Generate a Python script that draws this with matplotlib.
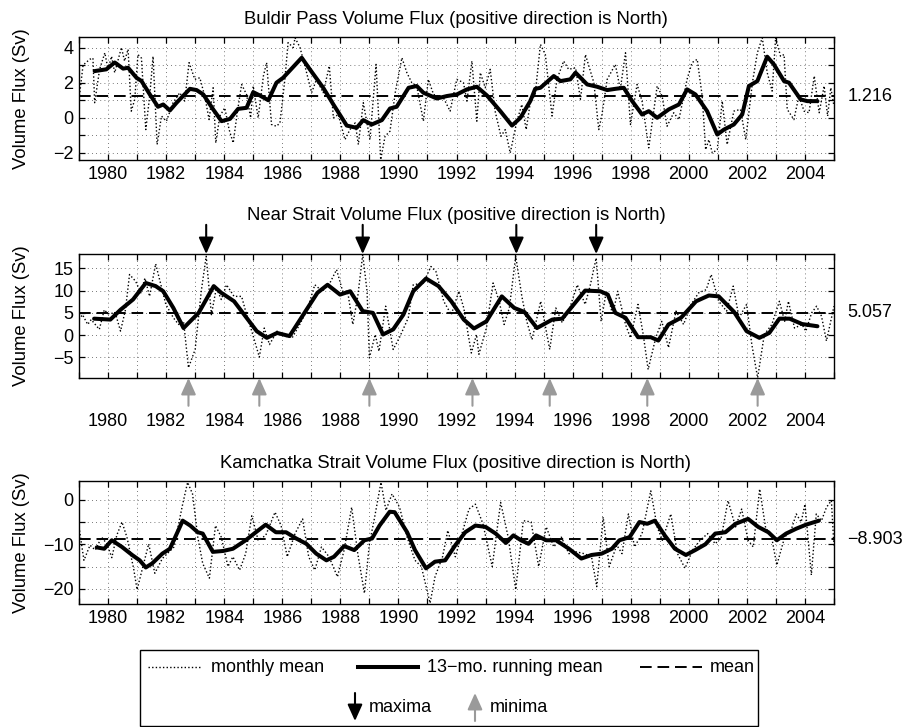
import matplotlib
matplotlib.use('Agg')
import matplotlib.pyplot as plt
from matplotlib.patches import Rectangle
from matplotlib.lines import Line2D
import matplotlib.transforms as mtransforms

plt.rcParams['font.family'] = ['Liberation Sans', 'DejaVu Sans']
plt.rcParams['axes.unicode_minus'] = True

# ---------------- data ----------------
years_ticks = list(range(1979, 2006))
year_labels = [str(y) if y % 2 == 0 else '' for y in years_ticks]

titles = ["Buldir Pass Volume Flux (positive direction is North)",
          "Near Strait Volume Flux (positive direction is North)",
          "Kamchatka Strait Volume Flux (positive direction is North)"]
means = [1.216, 5.057, -8.903]
mean_labels = ["1.216", "5.057", "\u22128.903"]

buldir_monthly = [
    (1979.00, 1.05), (1979.14, 3.0), (1979.37, 3.33), (1979.48, 3.4), (1979.54, 0.86),
    (1979.71, 2.76), (1979.89, 3.7), (1980.00, 2.76), (1980.12, 3.5), (1980.23, 2.57),
    (1980.46, 4.0), (1980.57, 3.23), (1980.69, 3.9), (1980.80, 0.38), (1980.92, 1.05),
    (1981.03, 3.6), (1981.15, 3.4), (1981.30, -0.67), (1981.44, 1.33), (1981.55, 3.5),
    (1981.69, -1.52), (1981.84, 0.1), (1982.01, -0.19), (1982.24, 0.86), (1982.47, 1.43),
    (1982.64, 0.95), (1982.79, 3.14), (1982.99, 2.19), (1983.16, 2.28), (1983.33, 1.24),
    (1983.48, -0.1), (1983.62, 1.71), (1983.71, -1.43), (1983.85, 0.1), (1984.02, 0.57),
    (1984.17, -0.67), (1984.31, -1.43), (1984.45, 0.29), (1984.60, 1.9), (1984.77, 1.33),
    (1984.91, 0.0), (1985.00, 1.81), (1985.17, 0.0), (1985.35, 2.38), (1985.46, 3.14),
    (1985.63, -0.38), (1985.80, -0.48), (1985.92, -0.29), (1986.09, 2.19), (1986.20, 4.28),
    (1986.38, 4.0), (1986.44, 4.56), (1986.61, 4.0), (1986.78, 2.95), (1987.01, 1.43),
    (1987.18, 2.19), (1987.41, 1.43), (1987.62, 2.95), (1987.76, 0.0), (1987.93, 0.19),
    (1988.16, -1.24), (1988.33, -0.67), (1988.51, -0.29), (1988.62, -1.52), (1988.79, 0.86),
    (1989.02, -1.24), (1989.23, 3.04), (1989.39, -2.38), (1989.54, -1.05), (1989.71, -0.76),
    (1989.89, 1.43), (1990.12, 3.42), (1990.29, 2.57), (1990.46, 2.0), (1990.63, 1.81),
    (1990.86, -0.19), (1991.03, 2.19), (1991.21, 1.33), (1991.38, 1.24), (1991.55, 1.14),
    (1991.78, 0.38), (1992.01, 2.19), (1992.24, 2.0), (1992.36, 0.95), (1992.53, 3.23),
    (1992.70, -0.19), (1992.82, 2.57), (1992.99, 1.71), (1993.16, 2.76), (1993.33, 0.38),
    (1993.53, -1.05), (1993.68, -0.67), (1993.85, -2.0), (1994.08, -0.19), (1994.25, 0.76),
    (1994.40, -0.67), (1994.54, 0.86), (1994.71, 1.33), (1994.89, 4.18), (1995.06, 3.6),
    (1995.29, 0.1), (1995.46, 2.19), (1995.69, 3.23), (1995.86, 2.76), (1996.10, 2.85),
    (1996.27, 1.05), (1996.44, 3.6), (1996.73, 2.0), (1996.90, -0.67), (1997.01, 0.19),
    (1997.19, 2.19), (1997.47, 3.04), (1997.64, 1.62), (1997.82, 3.7), (1997.99, -0.38),
    (1998.22, 1.9), (1998.39, 0.95), (1998.62, -1.71), (1998.91, 1.81), (1999.08, 1.24),
    (1999.25, -0.48), (1999.48, 0.29), (1999.66, -0.1), (1999.94, 2.19), (2000.11, 3.14),
    (2000.29, 3.33), (2000.46, 1.24), (2000.58, -1.81), (2000.69, -1.24), (2000.81, -2.0),
    (2000.98, -1.81), (2001.15, 0.95), (2001.32, -1.52), (2001.55, 0.38), (2001.78, 0.48),
    (2001.96, -1.24), (2002.19, 2.0), (2002.36, 3.7), (2002.53, 4.56), (2002.70, 2.57),
    (2002.87, 1.52), (2002.99, 4.56), (2003.16, 3.5), (2003.28, 3.6), (2003.39, 0.48),
    (2003.62, -0.1), (2003.79, 1.24), (2003.97, 0.38), (2004.14, 0.29), (2004.32, 2.38),
    (2004.49, 0.29), (2004.66, 1.81), (2004.78, 0.1), (2004.89, 1.71), (2005.00, 0.67)]

buldir_running = [
    (1979.54, 2.66), (1979.94, 2.76), (1980.23, 3.15), (1980.52, 2.8), (1980.69, 2.85),
    (1980.98, 2.28), (1981.15, 2.1), (1981.44, 1.33), (1981.72, 0.63), (1981.90, 0.76),
    (1982.13, 0.42), (1982.36, 0.86), (1982.82, 1.65), (1983.05, 1.58), (1983.28, 1.33),
    (1983.62, 0.48), (1983.91, -0.19), (1984.20, -0.06), (1984.48, 0.51), (1984.77, 0.57),
    (1985.00, 1.46), (1985.23, 1.27), (1985.52, 1.0), (1985.80, 2.0), (1986.03, 2.28),
    (1986.30, 2.76), (1986.67, 3.42), (1986.95, 2.76), (1987.41, 1.71), (1987.76, 0.76),
    (1988.22, -0.44), (1988.56, -0.57), (1988.79, -0.13), (1989.08, -0.38), (1989.43, -0.13),
    (1989.71, 0.53), (1989.94, 0.63), (1990.35, 1.71), (1990.63, 1.81), (1990.86, 1.43),
    (1991.32, 1.1), (1991.67, 1.24), (1992.01, 1.33), (1992.36, 1.62), (1992.70, 1.77),
    (1993.05, 1.27), (1993.51, 0.38), (1993.91, -0.44), (1994.20, 0.0), (1994.54, 0.95),
    (1994.71, 1.65), (1994.89, 1.71), (1995.35, 2.38), (1995.58, 2.09), (1995.92, 2.19),
    (1996.10, 2.57), (1996.50, 1.9), (1996.84, 1.77), (1997.19, 1.58), (1997.47, 1.65),
    (1997.76, 1.71), (1998.05, 0.95), (1998.39, 0.19), (1998.62, 0.38), (1998.91, 0.0),
    (1999.31, 0.48), (1999.66, 0.76), (1999.94, 1.62), (2000.23, 1.33), (2000.63, 0.38),
    (2000.98, -0.95), (2001.21, -0.67), (2001.55, -0.38), (2001.84, 0.19), (2002.07, 1.81),
    (2002.36, 2.09), (2002.70, 3.48), (2002.93, 3.04), (2003.28, 2.09), (2003.45, 2.0),
    (2003.85, 1.05), (2004.08, 0.95), (2004.43, 0.95)]

near_monthly = [
    (1979.00, 3.5), (1979.12, 4.6), (1979.30, 2.4), (1979.42, 3.5), (1979.56, 2.4),
    (1979.70, 1.3), (1979.87, 5.7), (1980.00, 4.8), (1980.25, 5.0), (1980.43, 0.9),
    (1980.60, 5.7), (1980.74, 13.6), (1980.95, 12.1), (1981.13, 9.5), (1981.27, 12.8),
    (1981.43, 8.7), (1981.64, 16.0), (1981.82, 11.3), (1981.99, 6.9), (1982.25, 3.9),
    (1982.43, 2.4), (1982.60, 3.1), (1982.77, -7.3), (1983.00, -3.2), (1983.21, 9.85),
    (1983.38, 17.7), (1983.56, 4.6), (1983.73, 10.6), (1983.90, 8.0), (1984.08, 11.3),
    (1984.34, 8.7), (1984.60, 8.7), (1984.77, 4.6), (1984.95, 0.9), (1985.21, -4.9),
    (1985.38, 1.6), (1985.56, -2.1), (1985.82, 0.9), (1986.08, -0.2), (1986.34, -0.6),
    (1986.60, 2.4), (1986.86, 5.7), (1987.12, 11.3), (1987.38, 9.85), (1987.64, 11.7),
    (1987.87, 14.7), (1988.08, 9.85), (1988.25, 9.85), (1988.43, 2.4), (1988.60, 8.7),
    (1988.77, 18.06), (1988.92, 9.85), (1989.00, -5.1), (1989.20, 0.15), (1989.33, -3.6),
    (1989.56, 6.5), (1989.82, -3.2), (1990.03, -0.6), (1990.34, 3.9), (1990.51, 11.3),
    (1990.86, 11.7), (1991.12, 15.4), (1991.29, 14.3), (1991.56, 7.6), (1991.82, 4.6),
    (1992.08, 9.85), (1992.25, 6.1), (1992.51, -4.0), (1992.69, 0.15), (1992.77, -4.3),
    (1993.03, 1.6), (1993.26, 11.7), (1993.47, 7.6), (1993.64, 2.4), (1993.82, 6.1),
    (1994.04, 17.7), (1994.25, 8.7), (1994.42, 3.1), (1994.60, -1.0), (1994.90, 7.6),
    (1995.21, -3.2), (1995.42, 6.1), (1995.64, 2.8), (1995.90, 6.1), (1996.16, 11.3),
    (1996.43, 6.9), (1996.60, 11.0), (1996.81, 17.3), (1996.98, 3.1), (1997.16, 9.85),
    (1997.38, 4.6), (1997.55, 9.85), (1997.82, 2.4), (1997.99, -0.6), (1998.25, 6.9),
    (1998.43, 0.15), (1998.60, -7.7), (1998.86, -0.6), (1999.07, 3.1), (1999.30, -2.8),
    (1999.56, 5.4), (1999.82, 2.4), (2000.08, 6.9), (2000.34, 9.5), (2000.60, 10.2),
    (2000.77, 13.6), (2001.03, 7.6), (2001.30, 5.4), (2001.53, 11.0), (2001.73, 3.9),
    (2001.99, 6.9), (2002.17, -2.1), (2002.37, -9.55), (2002.60, 0.15), (2002.86, 2.4),
    (2003.12, 7.6), (2003.30, 3.1), (2003.43, 7.6), (2003.64, 1.6), (2003.90, 2.4),
    (2004.03, 0.9), (2004.23, 5.0), (2004.40, 6.5), (2004.57, 4.25), (2004.74, -1.3),
    (2005.00, 6.5)]

near_running = [
    (1979.52, 3.7), (1980.08, 3.5), (1980.43, 5.7), (1980.86, 8.0), (1981.30, 11.7),
    (1981.64, 11.0), (1981.90, 9.85), (1982.25, 6.1), (1982.60, 1.6), (1983.12, 5.0),
    (1983.64, 11.0), (1983.90, 9.5), (1984.34, 7.6), (1984.77, 3.9), (1985.12, 0.9),
    (1985.47, -0.6), (1985.82, 0.5), (1986.25, -0.2), (1986.69, 4.25), (1987.21, 9.5),
    (1987.56, 11.3), (1987.99, 9.1), (1988.34, 9.85), (1988.77, 5.4), (1989.12, 5.0),
    (1989.47, 0.15), (1989.82, 1.3), (1990.17, 4.6), (1990.51, 9.85), (1990.95, 12.7),
    (1991.38, 11.0), (1991.82, 7.6), (1992.25, 3.5), (1992.60, 1.5), (1993.03, 3.1),
    (1993.56, 8.7), (1993.99, 6.1), (1994.34, 5.2), (1994.77, 1.6), (1995.30, 3.5),
    (1995.64, 3.7), (1995.99, 6.5), (1996.43, 10.0), (1996.95, 9.85), (1997.21, 9.1),
    (1997.47, 5.0), (1997.82, 3.9), (1998.25, -0.45), (1998.69, -0.45), (1998.95, -1.2),
    (1999.30, 2.4), (1999.73, 3.9), (2000.25, 7.6), (2000.69, 8.9), (2001.03, 8.7),
    (2001.56, 5.2), (2001.99, 0.9), (2002.43, -0.6), (2002.77, 0.5), (2003.12, 3.7),
    (2003.47, 3.7), (2003.90, 2.5), (2004.43, 2.0)]

kam_monthly = [
    (1979.00, -6.1), (1979.17, -13.6), (1979.38, -10.2), (1979.56, -11.3), (1979.78, -8.4),
    (1979.96, -9.9), (1980.13, -13.0), (1980.30, -8.0), (1980.48, -5.0), (1980.65, -8.4),
    (1980.88, -15.4), (1981.00, -20.2), (1981.17, -15.8), (1981.40, -9.9), (1981.61, -16.5),
    (1981.87, -13.2), (1982.04, -12.1), (1982.27, -10.6), (1982.57, -1.0), (1982.74, 3.9),
    (1982.91, 1.3), (1983.09, -8.4), (1983.26, -14.3), (1983.49, -17.6), (1983.70, -5.8),
    (1983.90, -8.4), (1984.13, -15.0), (1984.30, -12.8), (1984.53, -15.8), (1984.74, -12.1),
    (1984.95, -3.6), (1985.17, -9.1), (1985.43, -8.0), (1985.75, -2.8), (1985.96, -5.8),
    (1986.17, -12.8), (1986.44, -7.6), (1986.70, -4.3), (1986.91, -12.8), (1987.12, -15.8),
    (1987.35, -10.6), (1987.61, -12.8), (1987.90, -17.3), (1988.13, -11.3), (1988.39, -1.7),
    (1988.60, -12.1), (1988.83, -21.0), (1989.00, -9.9), (1989.17, -4.3), (1989.40, 3.9),
    (1989.57, -2.4), (1989.78, 1.3), (1990.04, -1.7), (1990.30, -8.4), (1990.57, -13.6),
    (1990.79, -15.0), (1991.09, -23.2), (1991.26, -17.3), (1991.52, -12.8), (1991.70, -6.9),
    (1991.96, -12.8), (1992.22, -6.9), (1992.43, -2.1), (1992.65, -1.0), (1992.91, -5.4),
    (1993.23, -15.0), (1993.52, -0.6), (1993.78, -8.4), (1994.04, -20.2), (1994.30, -4.7),
    (1994.57, -5.0), (1994.83, -15.0), (1995.09, -6.1), (1995.35, -10.6), (1995.61, -8.4),
    (1995.87, -12.1), (1996.13, -11.7), (1996.39, -12.1), (1996.65, -12.8), (1996.83, -19.5),
    (1997.05, -3.9), (1997.26, -15.0), (1997.52, -10.2), (1997.70, -12.1), (1997.92, -3.2),
    (1998.13, -10.6), (1998.39, -7.6), (1998.69, 2.0), (1998.91, -6.1), (1999.09, -9.1),
    (1999.38, -3.2), (1999.61, -12.1), (1999.87, -15.4), (2000.13, -11.3), (2000.39, -9.1),
    (2000.65, -7.6), (2000.91, -9.9), (2001.12, -8.4), (2001.35, -0.2), (2001.61, -6.1),
    (2001.82, -2.1), (2002.04, -9.1), (2002.22, -10.6), (2002.44, 2.4), (2002.65, -6.5),
    (2002.83, -7.6), (2003.03, -14.7), (2003.30, -8.4), (2003.52, -6.9), (2003.70, -3.2),
    (2003.87, -5.0), (2004.00, -1.0), (2004.22, -16.9), (2004.39, -3.2), (2004.57, -4.7),
    (2004.74, -1.7), (2004.91, -0.2), (2005.00, -10.6)]

kam_running = [
    (1979.61, -10.7), (1979.87, -11.0), (1980.13, -9.1), (1980.48, -10.6), (1980.83, -12.4),
    (1981.09, -13.6), (1981.30, -15.2), (1981.52, -14.3), (1981.87, -12.1), (1982.13, -11.0),
    (1982.39, -7.3), (1982.57, -4.7), (1982.83, -5.8), (1983.09, -7.3), (1983.26, -7.6),
    (1983.61, -11.7), (1983.96, -11.5), (1984.30, -11.0), (1984.74, -9.1), (1985.09, -7.3),
    (1985.43, -5.6), (1985.78, -7.3), (1986.13, -7.3), (1986.48, -8.7), (1986.83, -9.9),
    (1987.17, -12.1), (1987.52, -13.6), (1987.78, -12.8), (1988.13, -10.4), (1988.48, -11.3),
    (1988.83, -9.1), (1989.09, -8.7), (1989.35, -5.8), (1989.70, -2.7), (1989.87, -2.8),
    (1990.30, -7.3), (1990.57, -11.3), (1990.95, -15.4), (1991.26, -13.9), (1991.61, -13.6),
    (1991.96, -10.2), (1992.30, -7.3), (1992.65, -5.8), (1993.00, -6.1), (1993.35, -7.6),
    (1993.70, -9.7), (1993.96, -8.0), (1994.22, -9.1), (1994.48, -9.9), (1994.74, -8.0),
    (1995.09, -9.1), (1995.43, -9.1), (1995.87, -11.0), (1996.30, -13.2), (1996.65, -12.4),
    (1997.00, -12.1), (1997.35, -11.0), (1997.61, -9.1), (1997.96, -8.4), (1998.30, -5.0),
    (1998.57, -5.4), (1998.83, -4.7), (1999.17, -8.0), (1999.52, -11.0), (1999.90, -12.4),
    (2000.22, -11.3), (2000.57, -10.0), (2000.91, -7.6), (2001.26, -7.3), (2001.61, -5.4),
    (2002.04, -4.3), (2002.39, -6.1), (2002.74, -7.3), (2003.03, -9.1), (2003.35, -7.6),
    (2003.70, -6.5), (2004.04, -5.6), (2004.48, -4.7)]

near_maxima = [1983.38, 1988.77, 1994.06, 1996.81]
near_minima = [1982.77, 1985.21, 1989.00, 1992.55, 1995.21, 1998.57, 2002.37]

monthly_series = [buldir_monthly, near_monthly, kam_monthly]
running_series = [buldir_running, near_running, kam_running]
ylims = [(-2.4, 4.6), (-9.6, 18.2), (-23.4, 4.2)]
ytick_sets = [[-2, -1, 0, 1, 2, 3, 4], [-5, 0, 5, 10, 15], [-20, -15, -10, -5, 0]]
ytick_shown = [[-2, 0, 2, 4], [-5, 0, 5, 10, 15], [-20, -10, 0]]

# ---------------- layout (pixels) ----------------
W, H = 904, 727
fig = plt.figure(figsize=(W / 100, H / 100), dpi=100)
FS = 13
FS_T = 13.3

def px_axes(left, top, right, bottom, **kw):
    return fig.add_axes([left / W, 1 - bottom / H, (right - left) / W, (bottom - top) / H], **kw)

panel_boxes = [(79, 37, 834, 160), (79, 254, 834, 378), (79, 481, 834, 604)]
title_y = [20, 215, 463]
xlabel_pad = [4.5, 25, 4.5]

monthly_style = dict(color='k', lw=1.0, ls=(0, (1, 1.6)))
running_style = dict(color='k', lw=2.9, solid_capstyle='round', solid_joinstyle='round')
mean_style = dict(color='k', lw=1.4, ls=(0, (6, 3)))

def fmt(v):
    return ('\u2212' + str(abs(v))) if v < 0 else str(v)

axes = []
for i, box in enumerate(panel_boxes):
    ax = px_axes(*box)
    axes.append(ax)
    mt = [p[0] for p in monthly_series[i]]
    mv = [p[1] for p in monthly_series[i]]
    rt = [p[0] for p in running_series[i]]
    rv = [p[1] for p in running_series[i]]
    ax.plot(mt, mv, **monthly_style)
    ax.plot(rt, rv, **running_style)
    ax.axhline(means[i], **mean_style)
    ax.set_xlim(1979, 2005)
    ax.set_ylim(*ylims[i])
    ax.set_xticks(years_ticks)
    ax.set_xticklabels(year_labels)
    ax.set_yticks(ytick_sets[i])
    ax.set_yticklabels([fmt(v) if v in ytick_shown[i] else '' for v in ytick_sets[i]])
    ax.grid(True, color='0.3', lw=0.6, ls=(0, (1, 4)))
    ax.tick_params(direction='in', length=4.5, width=0.9, top=True, right=True,
                   labelsize=FS, colors='k')
    ax.tick_params(axis='x', pad=xlabel_pad[i])
    ax.tick_params(axis='y', pad=4)
    for s in ax.spines.values():
        s.set_linewidth(1.0)
    trans = mtransforms.blended_transform_factory(ax.transAxes, ax.transData)
    ax.text(1.0175, means[i], mean_labels[i], transform=trans, ha='left', va='center',
            fontsize=FS)
    fig.text(456 / W, 1 - title_y[i] / H, titles[i], ha='center', va='center', fontsize=FS_T)
    cy = (box[1] + box[3]) / 2
    fig.text(22 / W, 1 - cy / H, 'Volume Flux (Sv)', rotation=90, ha='center', va='center',
             fontsize=FS_T)

# arrows on Near Strait panel
ax2 = axes[1]
ytop, ybot = ylims[1][1], ylims[1][0]
arrow_kw = dict(arrowstyle='-|>,head_length=1.0,head_width=0.45', mutation_scale=10,
                lw=1.5, shrinkA=0, shrinkB=0)
for x in near_maxima:
    ax2.annotate('', xy=(x, ytop), xytext=(0, 21), textcoords='offset points',
                 annotation_clip=False, arrowprops=dict(color='k', **arrow_kw))
for x in near_minima:
    ax2.annotate('', xy=(x, ybot), xytext=(0, -20), textcoords='offset points',
                 annotation_clip=False, arrowprops=dict(color='#9a9a9a', **arrow_kw))

# ---------------- legend (figure pixel coordinates) ----------------
lg = fig.add_axes([0, 0, 1, 1], facecolor='none')
lg.set_xlim(0, W)
lg.set_ylim(H, 0)
lg.axis('off')
lg.add_patch(Rectangle((140, 650), 618, 76, fill=False, ec='k', lw=1.0))
row1, row2 = 667, 707
lg.add_line(Line2D([148, 201], [row1, row1], **monthly_style))
lg.text(211, row1, 'monthly mean', ha='left', va='center', fontsize=FS)
lg.add_line(Line2D([358, 418], [row1, row1], color='k', lw=2.9))
lg.text(427, row1, '13\u2212mo. running mean', ha='left', va='center', fontsize=FS)
lg.add_line(Line2D([640, 702], [row1, row1], **mean_style))
lg.text(710, row1, 'mean', ha='left', va='center', fontsize=FS)
lg.annotate('', xy=(355, 721), xytext=(355, 693), arrowprops=dict(color='k', **arrow_kw))
lg.text(369, row2, 'maxima', ha='left', va='center', fontsize=FS)
lg.annotate('', xy=(475, 693), xytext=(475, 721), arrowprops=dict(color='#9a9a9a', **arrow_kw))
lg.text(490, row2, 'minima', ha='left', va='center', fontsize=FS)

fig.savefig('out.png', dpi=100)
